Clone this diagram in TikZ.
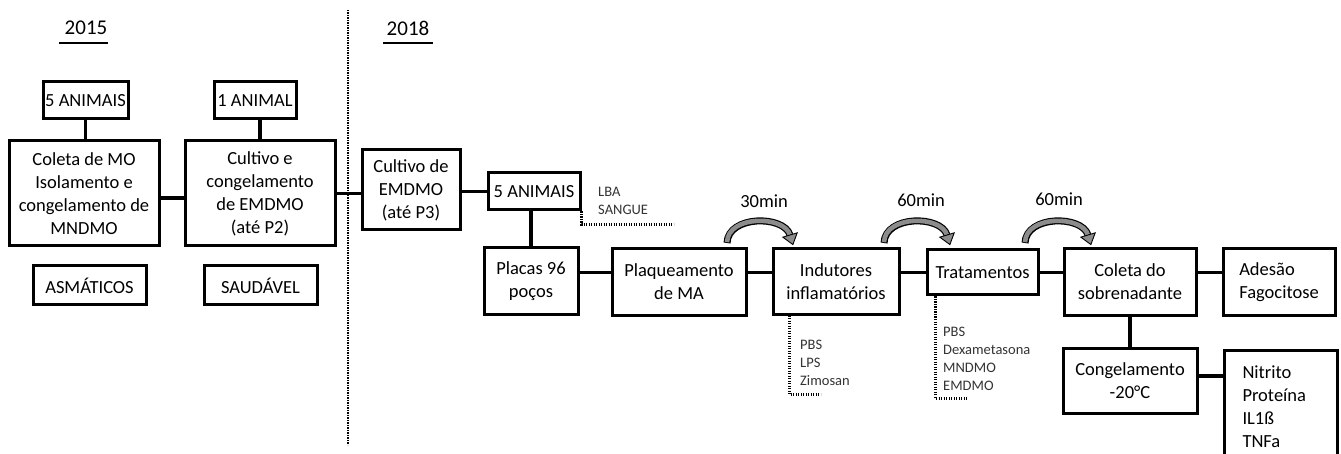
\documentclass[tikz,border=0pt]{standalone}
\usepackage{fontspec}
\setmainfont{Carlito}
\usetikzlibrary{calc}
\newcommand{\tmcurve}[2]{%
  \coordinate (cs) at (#1,#2);
  \coordinate (cc1) at (#1+1,#2-28);
  \coordinate (cc2) at (#1+57,#2-28);
  \coordinate (ce) at (#1+63,#2-8);
  \draw[line width=7pt] (cs) .. controls (cc1) and (cc2) .. (ce);
  \draw[line width=4.6pt, arrowgray, shorten <=0.9pt] (cs) .. controls (cc1) and (cc2) .. (ce);
  \filldraw[fill=arrowgray, draw=black, line width=0.9pt, line join=miter]
    ($(ce)!-10pt!(cc2)$) -- ($(ce)!7.5pt!90:(cc2)$) -- ($(ce)!7.5pt!-90:(cc2)$) -- cycle;
}
\definecolor{arrowgray}{gray}{0.55}
\tikzset{
  box/.style={draw, line width=3pt, align=center, inner sep=0pt, font=\fontsize{18.5}{23}\selectfont},
  conn/.style={line width=3.2pt},
  dots/.style={line width=2.6pt, dash pattern=on 1.3pt off 1.2pt},
  small/.style={font=\fontsize{14.5}{18}\selectfont, align=left, inner sep=0pt, text=black!80},
  ttl/.style={font=\fontsize{21}{25}\selectfont, inner sep=0pt},
  lab/.style={font=\fontsize{18.5}{23}\selectfont, inner sep=0pt}
}
\begin{document}
\begin{tikzpicture}[x=1pt, y=-1pt]
\useasboundingbox (0,0) rectangle (1341,454);
\clip (0,0) rectangle (1341,454);
% titles
\node[ttl] (t15) at (86,28) {2015};
\node[ttl] (t18) at (408,28) {2018};
\draw[line width=2.4pt] (59,43) -- (108,43);
\draw[line width=2.4pt] (383,43) -- (433,43);
% separator
\coordinate (sepA) at (348,10);
\coordinate (sepB) at (348,445);
\draw[dots, line width=2.5pt] (sepA) -- (sepB);
% 2015 part
\node[box, minimum width=85pt, minimum height=37pt] (a5) at (85.5,100.5) {5 ANIMAIS};
\node[box, minimum width=82pt, minimum height=37pt] (a1) at (255,100.5) {1 ANIMAL};
\node[box, minimum width=150pt, minimum height=105pt] (coleta) at (84,193.5) {Coleta de MO\\Isolamento e\\congelamento de\\MNDMO};
\node[box, minimum width=150pt, minimum height=105pt] (cult1) at (260,193.5) {Cultivo e\\congelamento\\de EMDMO\\(até P2)};
\node[box, minimum width=113pt, minimum height=39pt] (asm) at (89.5,285.5) {ASMÁTICOS};
\node[box, minimum width=113pt, minimum height=39pt] (saud) at (260.5,285.5) {SAUDÁVEL};
% 2018 part
\node[box, minimum width=98pt, minimum height=80pt] (cult2) at (411,190) {Cultivo de\\EMDMO\\(até P3)};
\node[box, minimum width=92pt, minimum height=37pt] (a5b) at (534,191.5) {5 ANIMAIS};
\node[box, minimum width=94pt, minimum height=66pt] (placas) at (531,281) {Placas 96\\poços};
\node[box, minimum width=134pt, minimum height=66pt] (plaq) at (679,282) {Plaqueamento\\de MA};
\node[box, minimum width=126pt, minimum height=65pt] (ind) at (836,281.5) {Indutores\\inflamatórios};
\node[box, minimum width=111pt, minimum height=45pt] (trat) at (982.5,272.5) {Tratamentos};
\node[box, minimum width=132pt, minimum height=66pt] (colS) at (1130,282) {Coleta do\\sobrenadante};
\node[box, minimum width=112pt, minimum height=66pt, align=left] (ades) at (1279,282) {Adesão\\Fagocitose};
\node[box, minimum width=134pt, minimum height=65pt] (cong) at (1130,380.5) {Congelamento\\-20°C};
\node[box, anchor=north west, align=left, text width=77pt, inner xsep=18pt, inner ysep=15pt] (nit) at (1223,349) {Nitrito\\Proteína\\IL1ß\\TNFa\rule[-30pt]{0pt}{30pt}};
% connectors
\draw[conn] (a5.south) -- (a5.south |- coleta.north);
\draw[conn] (a1.south -| cult1.north) -- (cult1.north);
\draw[conn] ([yshift=-4.5pt]coleta.east) -- ([yshift=-4.5pt]cult1.west);
\draw[conn] (cult1.east) -- (cult2.west |- cult1.east);
\draw[conn] (cult2.east |- a5b.west) -- (a5b.west);
\draw[conn] (a5b.south -| placas.north) -- (placas.north);
\draw[conn] (placas.east |- trat.west) -- (plaq.west |- trat.west);
\draw[conn] (plaq.east |- trat.west) -- (ind.west |- trat.west);
\draw[conn] (ind.east |- trat.west) -- (trat.west);
\draw[conn] (trat.east) -- (colS.west |- trat.east);
\draw[conn] (colS.east |- trat.east) -- (ades.west |- trat.east);
\draw[conn] (colS.south) -- (cong.north);
\coordinate (congR) at ([yshift=4.5pt]cong.east);
\draw[conn] (congR) -- (nit.west |- congR);
% side lists
\node[small, anchor=west] (lba) at (598,201) {LBA\\SANGUE};
\draw[dots] (a5b.south east) -- ++(0,13) -- ++(92,0);
\node[small, anchor=west] (indl) at (800,363) {PBS\\LPS\\Zimosan};
\draw[dots] ([xshift=18pt]ind.south west) -- ++(0,79) -- ++(31,0);
\node[small, anchor=west] (tratl) at (943,359) {PBS\\Dexametasona\\MNDMO\\EMDMO};
\draw[dots] ([xshift=10pt]trat.south west) -- ++(0,102) -- ++(31,0);
% curved arrows with times
\tmcurve{727}{243}
\node[lab] (m30) at (764,201) {30min};
\tmcurve{884}{243}
\node[lab] (m60a) at (921,200) {60min};
\tmcurve{1025}{243}
\node[lab] (m60b) at (1059,199) {60min};
\end{tikzpicture}
\end{document}
